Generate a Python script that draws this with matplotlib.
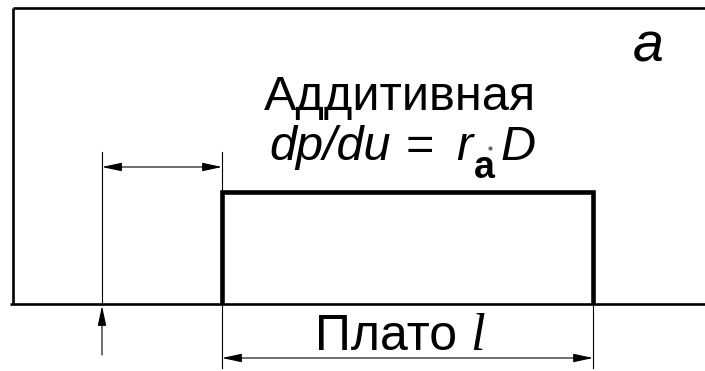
import matplotlib
matplotlib.use("Agg")
import matplotlib.pyplot as plt
from matplotlib.patches import FancyArrowPatch

# ---- diagram "data" (pixel-space coordinates of the schematic) ----
box_left = 13
box_top = 8
baseline_y = 304
offset_x = 102          # start of the offset dimension
plateau_x = [222, 593]  # start / end of the plateau
plateau_top = 192
dim_top_y = 152
dim_bottom_y = 368
offset_arrow_y = 167
plateau_arrow_y = 358
up_arrow_y = [355, 306]

title_text = "Аддитивная"
plateau_label = "Плато"
panel_label = "a"

fig = plt.figure(figsize=(7.05, 3.71), dpi=100)
ax = fig.add_axes([0, 0, 1, 1])
ax.set_xlim(0, 705)
ax.set_ylim(371, 0)
ax.axis("off")

K = "black"
thick = 1.9
heavy = 3.3
thin = 0.8

# outer frame (top + left) and baseline
ax.plot([box_left, 705], [box_top, box_top], color=K, lw=thick, solid_capstyle="butt")
ax.plot([box_left, box_left], [box_top, baseline_y], color=K, lw=thick, solid_capstyle="butt")
ax.plot([10, 705], [baseline_y, baseline_y], color=K, lw=thick, solid_capstyle="butt")

# plateau
ax.plot([plateau_x[0], plateau_x[0], plateau_x[1], plateau_x[1]],
        [baseline_y, plateau_top, plateau_top, baseline_y],
        color=K, lw=heavy, solid_joinstyle="miter", solid_capstyle="butt")

# extension lines
ax.plot([offset_x, offset_x], [dim_top_y, baseline_y], color=K, lw=thin)
ax.plot([plateau_x[0], plateau_x[0]], [dim_top_y, dim_bottom_y], color=K, lw=thin)
ax.plot([plateau_x[1], plateau_x[1]], [baseline_y, dim_bottom_y], color=K, lw=thin)

def arrow(p0, p1, style):
    a = FancyArrowPatch(p0, p1, arrowstyle=style, mutation_scale=1,
                        color=K, lw=thin, shrinkA=0, shrinkB=0)
    ax.add_patch(a)

both = "<|-|>,head_length=12,head_width=2.6"
one = "-|>,head_length=12,head_width=2.6"
arrow((offset_x, offset_arrow_y), (plateau_x[0], offset_arrow_y), both)
arrow((plateau_x[0], plateau_arrow_y), (plateau_x[1], plateau_arrow_y), both)
arrow((offset_x, up_arrow_y[0]), (offset_x, up_arrow_y[1]), one)

sans = "Liberation Sans"
# texts
ax.text(648, 62, panel_label, fontsize=40, family=sans, style="italic",
        ha="center", va="baseline")
ax.text(400, 110, title_text, fontsize=35, family=sans, ha="center", va="baseline")

fy = 160
ax.text(269, fy, "dp/du", fontsize=35, family=sans, style="italic",
        ha="left", va="baseline")
ax.text(420, fy, "=", fontsize=35, family=sans, ha="center", va="baseline")
ax.text(456, fy, "r", fontsize=35, family=sans, style="italic",
        ha="left", va="baseline")
ax.text(474, 178, "a", fontsize=27, family=sans, weight="bold",
        ha="left", va="baseline")
ax.plot([490], [148], marker="o", ms=3, color="#666666", mec="none")
ax.text(500, fy, "D", fontsize=35, family=sans, style="italic",
        ha="left", va="baseline")

ax.text(315, 350, plateau_label, fontsize=36, family=sans, ha="left", va="baseline")
ax.text(470, 350, "l", fontsize=38, family="Liberation Serif", style="italic",
        ha="left", va="baseline")

fig.savefig("out.png", dpi=100, facecolor="white")
